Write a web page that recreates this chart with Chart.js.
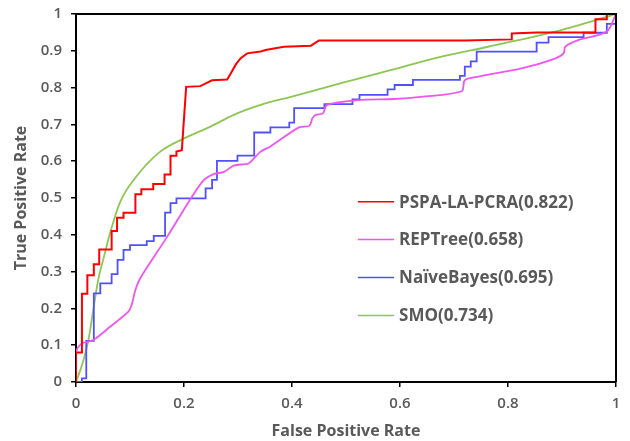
<!DOCTYPE html>
<html lang="en">
<head>
<meta charset="UTF-8">
<title>ROC</title>
<script src="https://cdn.jsdelivr.net/npm/chart.js"></script>
<style>
  html, body { margin: 0; padding: 0; background: #fff; }
  #wrap { width: 630px; height: 441px; }
</style>
</head>
<body>
<div id="wrap"><canvas id="roc" width="630" height="441"></canvas></div>
<script>
// tick labels
const xTicks = [0, 0.2, 0.4, 0.6, 0.8, 1];
const yTicks = [0, 0.1, 0.2, 0.3, 0.4, 0.5, 0.6, 0.7, 0.8, 0.9, 1];

// series names
const names = ['PSPA-LA-PCRA(0.822)', 'REPTree(0.658)', 'NaïveBayes(0.695)', 'SMO(0.734)'];

// PSPA-LA-PCRA
const redX = [0, 0, 0.011, 0.011, 0.021, 0.021, 0.033, 0.033, 0.043, 0.043, 0.066, 0.066, 0.076, 0.076, 0.088, 0.088, 0.11, 0.11, 0.121, 0.121, 0.143, 0.143, 0.164, 0.164, 0.175, 0.175, 0.186, 0.186, 0.196, 0.204, 0.23, 0.252, 0.28, 0.286, 0.296, 0.305, 0.317, 0.342, 0.351, 0.385, 0.435, 0.45, 0.72, 0.807, 0.807, 0.853, 0.962, 0.962, 0.983, 0.983, 1];
const redY = [0, 0.08, 0.08, 0.24, 0.24, 0.29, 0.29, 0.32, 0.32, 0.36, 0.36, 0.41, 0.41, 0.446, 0.446, 0.46, 0.46, 0.51, 0.51, 0.524, 0.524, 0.538, 0.538, 0.564, 0.564, 0.615, 0.615, 0.626, 0.63, 0.802, 0.804, 0.82, 0.822, 0.837, 0.863, 0.88, 0.893, 0.898, 0.902, 0.911, 0.914, 0.928, 0.928, 0.931, 0.947, 0.95, 0.95, 0.986, 0.986, 1, 1];

// REPTree
const pinkX = [0, 0, 0.011, 0.032, 0.063, 0.097, 0.103, 0.11, 0.119, 0.169, 0.215, 0.237, 0.255, 0.274, 0.292, 0.314, 0.32, 0.342, 0.36, 0.413, 0.432, 0.438, 0.444, 0.457, 0.465, 0.522, 0.59, 0.639, 0.714, 0.72, 0.745, 0.825, 0.887, 0.903, 0.906, 0.93, 0.968, 0.986, 1];
const pinkY = [0, 0.08, 0.105, 0.114, 0.15, 0.191, 0.209, 0.25, 0.282, 0.395, 0.504, 0.549, 0.565, 0.571, 0.588, 0.592, 0.594, 0.626, 0.64, 0.692, 0.696, 0.717, 0.726, 0.73, 0.753, 0.766, 0.769, 0.775, 0.79, 0.82, 0.83, 0.852, 0.879, 0.893, 0.911, 0.929, 0.943, 0.957, 1];

// NaiveBayes
const blueX = [0, 0.011, 0.011, 0.019, 0.019, 0.033, 0.033, 0.045, 0.045, 0.066, 0.066, 0.077, 0.077, 0.088, 0.088, 0.1, 0.1, 0.131, 0.131, 0.144, 0.144, 0.165, 0.165, 0.175, 0.175, 0.186, 0.186, 0.24, 0.24, 0.252, 0.252, 0.261, 0.261, 0.299, 0.299, 0.33, 0.33, 0.36, 0.36, 0.395, 0.395, 0.404, 0.404, 0.46, 0.46, 0.512, 0.512, 0.525, 0.525, 0.577, 0.577, 0.59, 0.59, 0.624, 0.624, 0.711, 0.711, 0.72, 0.72, 0.731, 0.731, 0.742, 0.742, 0.853, 0.853, 0.875, 0.875, 0.94, 0.94, 0.983, 0.983, 1, 1];
const blueY = [0, 0, 0.01, 0.01, 0.112, 0.112, 0.241, 0.241, 0.268, 0.268, 0.293, 0.293, 0.332, 0.332, 0.359, 0.359, 0.372, 0.372, 0.383, 0.383, 0.397, 0.397, 0.46, 0.46, 0.486, 0.486, 0.499, 0.499, 0.526, 0.526, 0.549, 0.549, 0.601, 0.601, 0.615, 0.615, 0.678, 0.678, 0.692, 0.692, 0.705, 0.705, 0.744, 0.744, 0.755, 0.755, 0.768, 0.768, 0.78, 0.78, 0.795, 0.795, 0.807, 0.807, 0.821, 0.821, 0.832, 0.832, 0.857, 0.857, 0.871, 0.871, 0.898, 0.898, 0.922, 0.922, 0.937, 0.937, 0.949, 0.949, 0.973, 0.973, 1];

// SMO
const greenX = [0, 0.012, 0.023, 0.032, 0.041, 0.051, 0.063, 0.082, 0.11, 0.156, 0.2, 0.249, 0.292, 0.342, 0.398, 0.491, 0.584, 0.677, 0.763, 0.887, 1];
const greenY = [0, 0.05, 0.114, 0.196, 0.277, 0.336, 0.404, 0.49, 0.555, 0.626, 0.662, 0.694, 0.726, 0.753, 0.775, 0.812, 0.848, 0.884, 0.911, 0.952, 1];

const colors = ['#ff0000', '#f055f0', '#5050ff', '#8cc850'];

function pts(xs, ys) {
    return xs.map((x, i) => ({ x: x, y: ys[i] }));
}

const textGray = '#595959';

// legend drawn inside the plot
const insideLegend = {
    id: 'insideLegend',
    afterDatasetsDraw(chart) {
        const ctx = chart.ctx;
        const xs = chart.scales.x;
        const ys = chart.scales.y;
        const x0 = xs.getPixelForValue(0.522);
        const x1 = xs.getPixelForValue(0.589);
        ctx.save();
        ctx.font = 'bold 17px "Open Sans"';
        ctx.fillStyle = textGray;
        ctx.textBaseline = 'middle';
        chart.data.datasets.forEach((ds, i) => {
            const y = ys.getPixelForValue(0.49 - i * 0.103);
            ctx.strokeStyle = ds.borderColor;
            ctx.lineWidth = 1.5;
            ctx.beginPath();
            ctx.moveTo(x0, y);
            ctx.lineTo(x1, y);
            ctx.stroke();
            ctx.fillText(ds.label, x1 + 5, y + 1);
        });
        ctx.restore();
    }
};

// top and right frame
const frame = {
    id: 'frame',
    afterDraw(chart) {
        const a = chart.chartArea;
        const ctx = chart.ctx;
        ctx.save();
        ctx.strokeStyle = '#000';
        ctx.lineWidth = 2;
        ctx.beginPath();
        ctx.moveTo(a.left, a.top);
        ctx.lineTo(a.right, a.top);
        ctx.lineTo(a.right, a.bottom);
        ctx.stroke();
        ctx.restore();
    }
};

const config = {
    type: 'scatter',
    data: {
        datasets: [
            { label: names[0], data: pts(redX, redY), borderColor: colors[0], borderWidth: 2, tension: 0 },
            { label: names[1], data: pts(pinkX, pinkY), borderColor: colors[1], borderWidth: 1.8, tension: 0.3 },
            { label: names[2], data: pts(blueX, blueY), borderColor: colors[2], borderWidth: 1.8, tension: 0 },
            { label: names[3], data: pts(greenX, greenY), borderColor: colors[3], borderWidth: 1.8, cubicInterpolationMode: 'monotone' }
        ].map(ds => Object.assign(ds, { showLine: true, pointRadius: 0, pointHoverRadius: 0, fill: false, backgroundColor: ds.borderColor }))
    },
    options: {
        responsive: false,
        animation: false,
        events: [],
        layout: { padding: { top: 14, right: 14, left: 0, bottom: 0 } },
        plugins: {
            legend: { display: false },
            tooltip: { enabled: false }
        },
        scales: {
            x: {
                type: 'linear',
                min: 0,
                max: 1,
                afterBuildTicks: s => { s.ticks = xTicks.map(v => ({ value: v })); },
                afterFit: s => { s.height = 59; s.paddingLeft = 0; s.paddingRight = 0; },
                grid: { drawOnChartArea: false, drawTicks: true, tickLength: 5, color: '#000', lineWidth: 1.5 },
                border: { color: '#000', width: 2 },
                ticks: { color: textGray, font: { family: 'Open Sans', size: 15, weight: '600' }, padding: 8, maxRotation: 0, callback: v => String(v) },
                title: { display: true, text: 'False Positive Rate', color: textGray, font: { family: 'Open Sans', size: 16, weight: 'bold' }, padding: { top: 0, bottom: 0 } }
            },
            y: {
                type: 'linear',
                min: 0,
                max: 1,
                afterBuildTicks: s => { s.ticks = yTicks.map(v => ({ value: v })); },
                afterFit: s => { s.width = 76; s.paddingTop = 0; s.paddingBottom = 0; },
                grid: { drawOnChartArea: false, drawTicks: true, tickLength: 5, color: '#000', lineWidth: 1.5 },
                border: { color: '#000', width: 2 },
                ticks: { color: textGray, font: { family: 'Open Sans', size: 15, weight: '600' }, padding: 9, callback: v => String(v) },
                title: { display: true, text: 'True Positive Rate', color: textGray, font: { family: 'Open Sans', size: 16, weight: 'bold' }, padding: { top: 12, bottom: 0 } }
            }
        }
    },
    plugins: [insideLegend, frame]
};

const rocChart = new Chart(document.getElementById('roc'), config);
</script>
</body>
</html>
